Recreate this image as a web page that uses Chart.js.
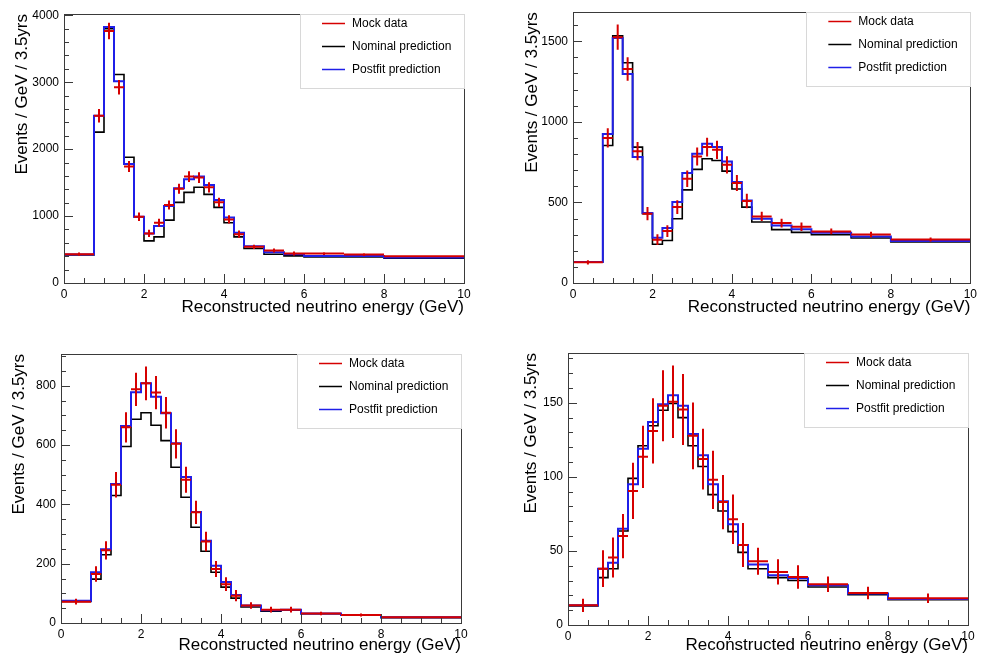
<!DOCTYPE html>
<html>
<head>
<meta charset="utf-8">
<script src="https://cdn.jsdelivr.net/npm/chart.js@4.4.1/dist/chart.umd.min.js"></script>
<style>
html, body { margin: 0; padding: 0; background: #fff; }
body { width: 981px; height: 660px; position: relative; overflow: hidden; }
canvas { position: absolute; }
</style>
</head>
<body>
<canvas id="c1"></canvas>
<canvas id="c2"></canvas>
<canvas id="c3"></canvas>
<canvas id="c4"></canvas>
<script>
// variable-width energy bins (GeV), shared by all four panels
const binEdges = [0, 0.75, 1, 1.25, 1.5, 1.75, 2, 2.25, 2.5, 2.75, 3, 3.25, 3.5, 3.75, 4, 4.25, 4.5, 5, 5.5, 6, 7, 8, 10];
const xTicks = [0, 2, 4, 6, 8, 10];
const legendLabels = ["Mock data", "Nominal prediction", "Postfit prediction"];
const xTitle = "Reconstructed neutrino energy (GeV)";
const yTitle = "Events / GeV / 3.5yrs";

// top left
const p1Ticks = [0, 1000, 2000, 3000, 4000];
const p1Nominal = [420, 2255, 3800, 3115, 1880, 990, 630, 690, 940, 1205, 1355, 1430, 1325, 1130, 900, 690, 515, 430, 405, 390, 390, 370];
const p1Postfit = [425, 2500, 3825, 3015, 1780, 990, 740, 850, 1150, 1415, 1550, 1590, 1465, 1240, 980, 750, 550, 460, 430, 405, 405, 380];
const p1Data = [430, 2500, 3765, 2925, 1740, 990, 740, 900, 1165, 1410, 1590, 1575, 1430, 1205, 950, 730, 540, 485, 440, 440, 425, 400];
const p1Err = [24, 100, 123, 108, 83, 63, 54, 60, 68, 75, 80, 79, 76, 69, 62, 54, 33, 31, 30, 21, 21, 14];

// top right
const p2Ticks = [0, 500, 1000, 1500];
const p2Nominal = [130, 853, 1533, 1366, 843, 430, 240, 264, 399, 578, 705, 771, 760, 694, 583, 471, 378, 331, 314, 299, 279, 254];
const p2Postfit = [130, 925, 1520, 1297, 781, 434, 281, 341, 502, 682, 802, 864, 843, 754, 626, 512, 399, 357, 334, 312, 289, 260];
const p2Data = [128, 900, 1525, 1328, 818, 430, 269, 322, 471, 647, 785, 843, 826, 733, 620, 508, 413, 372, 349, 320, 301, 270];
const p2Err = [13, 60, 78, 73, 57, 41, 33, 36, 43, 51, 56, 58, 57, 54, 50, 45, 29, 27, 26, 18, 17, 12];

// bottom left
const p3Ticks = [0, 200, 400, 600, 800];
const p3Nominal = [73, 148, 230, 430, 595, 687, 709, 667, 615, 525, 424, 323, 242, 171, 121, 84, 54, 40, 43, 31, 26, 18];
const p3Postfit = [75, 171, 249, 469, 664, 778, 808, 763, 707, 606, 492, 374, 277, 193, 138, 94, 59, 43, 45, 32, 27, 19];
const p3Data = [72, 165, 245, 466, 660, 788, 808, 777, 709, 604, 483, 373, 275, 182, 131, 92, 59, 45, 45, 32, 27, 19];
const p3Err = [10, 26, 31, 43, 51, 56, 57, 56, 53, 49, 44, 39, 33, 27, 23, 19, 11, 9.5, 9.5, 5.7, 5.2, 3.1];

// bottom right
const p4Ticks = [0, 50, 100, 150];
const p4Nominal = [12.8, 32, 38, 63.5, 99, 121, 134.5, 145, 149.5, 140, 121, 107, 88, 77, 63, 49, 38, 32, 30, 25.7, 20.5, 17.1];
const p4Postfit = [13.3, 38, 42, 65, 95, 119, 137, 149, 155, 148, 129, 114.6, 95, 83.5, 68, 54, 40.8, 33.5, 31.5, 26.8, 21.2, 17.6];
const p4Data = [13.3, 38, 45.5, 60, 90.5, 113.5, 131, 148, 150.7, 145.5, 127.7, 112, 98, 83, 71.4, 54, 43, 35.8, 32.4, 27.5, 21.6, 18];
const p4Err = [4.5, 12.4, 13.5, 15, 19, 21, 22, 24, 24.5, 24, 22.5, 20.5, 19.7, 18.3, 16.7, 14.9, 9.1, 8.5, 7.9, 5.3, 4.3, 3.2];

const RED = "#d60000", BLACK = "#000000", BLUE = "#1f1fe8";
Chart.defaults.font.family = '"Liberation Sans", Arial, Helvetica, sans-serif';
Chart.defaults.color = "#000";

function histPoints(vals) {
    const pts = vals.map((v, i) => ({ x: binEdges[i], y: v }));
    pts.push({ x: binEdges[binEdges.length - 1], y: vals[vals.length - 1] });
    return pts;
}

function errorPoints(vals, errs) {
    const pts = [];
    vals.forEach((v, i) => {
        const lo = binEdges[i], hi = binEdges[i + 1], mid = (lo + hi) / 2;
        pts.push({ x: lo, y: v }, { x: hi, y: v }, { x: hi, y: null });
        pts.push({ x: mid, y: v - errs[i] }, { x: mid, y: v + errs[i] }, { x: mid, y: null });
    });
    return pts;
}

// frame, inward ticks and legend, ROOT style
const rootFrame = {
    id: "rootFrame",
    afterDraw(chart, args, o) {
        const { ctx, chartArea: a, scales: { x, y } } = chart;
        ctx.save();
        ctx.strokeStyle = "#3a3a3a";
        ctx.lineWidth = 1;
        ctx.strokeRect(Math.round(a.left) + 0.5, Math.round(a.top) + 0.5,
            Math.round(a.right - a.left), Math.round(a.bottom - a.top));
        ctx.beginPath();
        for (let i = 0; i <= 20; i++) {
            const px = Math.round(x.getPixelForValue(i * 0.5)) + 0.5;
            const len = i % 4 === 0 ? 9 : 5;
            ctx.moveTo(px, a.bottom);
            ctx.lineTo(px, a.bottom - len);
        }
        for (let v = 0; v <= y.max; v += o.yMinor) {
            const py = Math.round(y.getPixelForValue(v)) + 0.5;
            const len = Math.abs(v / o.yMajor - Math.round(v / o.yMajor)) < 1e-6 ? 9 : 5;
            ctx.moveTo(a.left, py);
            ctx.lineTo(a.left + len, py);
        }
        ctx.stroke();

        // legend
        const lx = a.right - 164, ly = a.top;
        ctx.strokeStyle = "#d8d8d8";
        ctx.strokeRect(Math.round(lx) + 0.5, Math.round(ly) + 0.5, a.right - lx, 74);
        const cols = [RED, BLACK, BLUE];
        ctx.font = '12px "Liberation Sans", Arial, sans-serif';
        ctx.textBaseline = "middle";
        ctx.fillStyle = "#000";
        legendLabels.forEach((t, i) => {
            const yy = Math.round(a.top + 9 + i * 23) + 0.5;
            ctx.strokeStyle = cols[i];
            ctx.lineWidth = 1.5;
            ctx.beginPath();
            ctx.moveTo(a.right - 142, yy);
            ctx.lineTo(a.right - 119, yy);
            ctx.stroke();
            ctx.fillText(t, a.right - 112, yy);
        });
        ctx.restore();
    }
};

function makePanel(p) {
    const cv = document.getElementById(p.id);
    cv.width = p.box.w;
    cv.height = p.box.h;
    cv.style.left = p.box.x + "px";
    cv.style.top = p.box.y + "px";
    const padLeft = Math.round(p.titleX - 14.2 - p.box.x);
    const yWidth = p.area.l - p.box.x - padLeft;
    const xHeight = p.box.y + p.box.h - p.area.b;

    new Chart(cv, {
        type: "scatter",
        data: {
            datasets: [
                { label: legendLabels[0], data: errorPoints(p.data, p.err), showLine: true, spanGaps: false,
                  borderColor: RED, borderWidth: 2, pointRadius: 0 },
                { label: legendLabels[2], data: histPoints(p.postfit), showLine: true, stepped: true,
                  borderColor: BLUE, borderWidth: 2, pointRadius: 0 },
                { label: legendLabels[1], data: histPoints(p.nominal), showLine: true, stepped: true,
                  borderColor: BLACK, borderWidth: 1.6, pointRadius: 0 }
            ]
        },
        options: {
            responsive: false,
            animation: false,
            events: [],
            layout: { padding: { left: padLeft, top: p.area.t - p.box.y, right: p.box.x + p.box.w - p.area.r, bottom: 0 } },
            plugins: {
                legend: { display: false },
                tooltip: { enabled: false },
                rootFrame: { yMajor: p.ticks[1], yMinor: p.yMinor }
            },
            scales: {
                x: {
                    type: "linear", min: 0, max: 10,
                    grid: { display: false, drawTicks: false },
                    border: { display: false },
                    ticks: { autoSkip: false, maxRotation: 0, padding: 4, font: { size: 12 }, color: "#000" },
                    afterBuildTicks: s => { s.ticks = xTicks.map(v => ({ value: v })); },
                    title: { display: true, text: xTitle, align: "end", font: { size: 17 }, color: "#000" },
                    afterFit: s => { s.height = xHeight; }
                },
                y: {
                    type: "linear", min: 0, max: p.ymax,
                    grid: { display: false, drawTicks: false },
                    border: { display: false },
                    ticks: { autoSkip: false, padding: 5, font: { size: 12 }, color: "#000", callback: v => String(v) },
                    afterBuildTicks: s => { s.ticks = p.ticks.map(v => ({ value: v })); },
                    title: { display: true, text: yTitle, align: "end", font: { size: 17 }, color: "#000" },
                    afterFit: s => { s.width = yWidth; }
                }
            }
        },
        plugins: [rootFrame]
    });
}

makePanel({ id: "c1", box: { x: 0, y: 0, w: 490, h: 322 }, area: { l: 64, t: 14, r: 464, b: 283 }, titleX: 22,
    ymax: 4020, ticks: p1Ticks, yMinor: 200, nominal: p1Nominal, postfit: p1Postfit, data: p1Data, err: p1Err });
makePanel({ id: "c2", box: { x: 490, y: 0, w: 491, h: 322 }, area: { l: 573, t: 12, r: 973, b: 283 }, titleX: 532,
    ymax: 1680, ticks: p2Ticks, yMinor: 100, nominal: p2Nominal, postfit: p2Postfit, data: p2Data, err: p2Err });
makePanel({ id: "c3", box: { x: 0, y: 330, w: 490, h: 330 }, area: { l: 61, t: 354, r: 461, b: 623 }, titleX: 19,
    ymax: 907, ticks: p3Ticks, yMinor: 50, nominal: p3Nominal, postfit: p3Postfit, data: p3Data, err: p3Err });
makePanel({ id: "c4", box: { x: 490, y: 330, w: 491, h: 330 }, area: { l: 568, t: 353, r: 968, b: 625 }, titleX: 531,
    ymax: 183.6, ticks: p4Ticks, yMinor: 10, nominal: p4Nominal, postfit: p4Postfit, data: p4Data, err: p4Err });
</script>
</body>
</html>
